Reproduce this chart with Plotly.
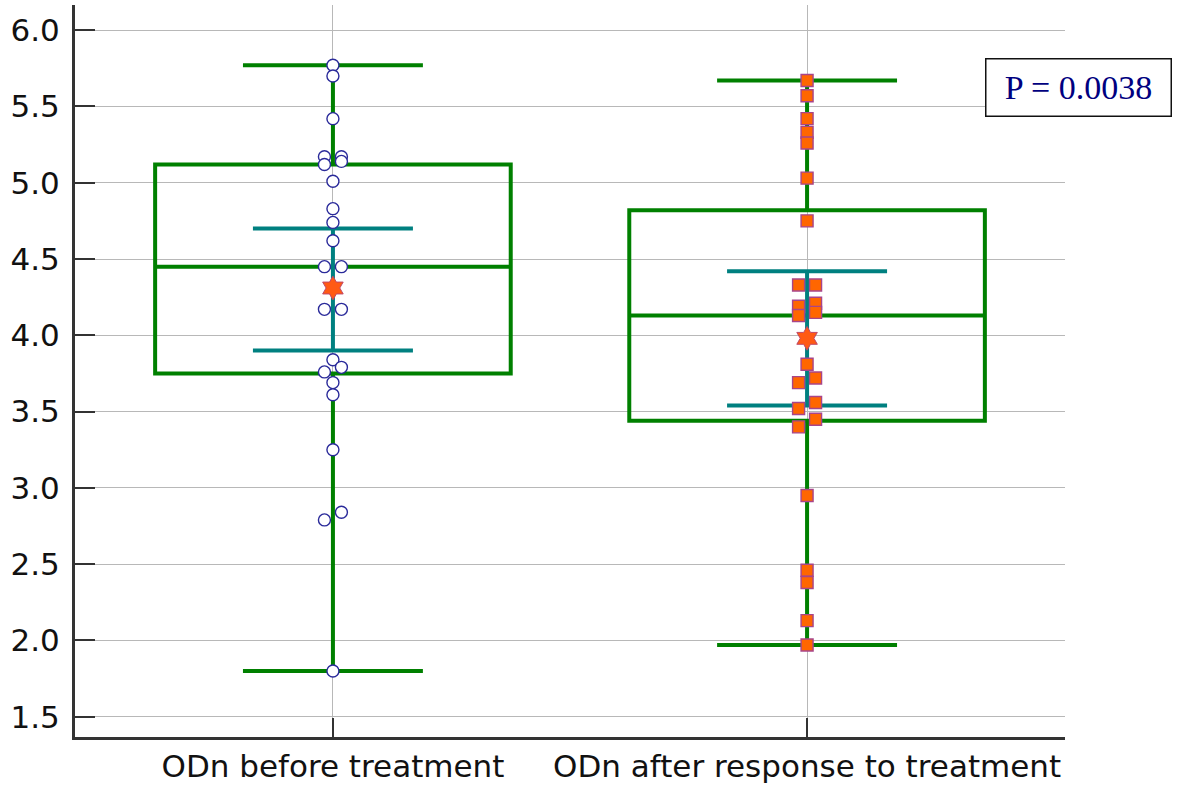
import plotly.graph_objects as go

# ---------------- data ----------------
categories = ["ODn before treatment", "ODn after response to treatment"]

before = [5.77, 5.70, 5.42, 5.17, 5.17, 5.14, 5.12, 5.01, 4.83, 4.74, 4.62,
          4.45, 4.45, 4.17, 4.17, 3.84, 3.79, 3.76, 3.69, 3.61, 3.25, 2.84,
          2.79, 1.80]
after = [5.67, 5.57, 5.42, 5.33, 5.26, 5.03, 4.75, 4.33, 4.33, 4.21, 4.19,
         4.15, 4.13, 3.81, 3.72, 3.69, 3.56, 3.52, 3.45, 3.40, 2.95, 2.46,
         2.38, 2.13, 1.97]

q1 = [3.75, 3.44]
median = [4.45, 4.13]
q3 = [5.12, 4.82]
whisker_low = [1.80, 1.97]
whisker_high = [5.77, 5.67]
mean = [4.31, 3.98]
ci_low = [3.90, 3.54]
ci_high = [4.70, 4.42]

y_ticks = [1.5, 2.0, 2.5, 3.0, 3.5, 4.0, 4.5, 5.0, 5.5, 6.0]
p_text = "P = 0.0038"

# ---------------- styling ----------------
GREEN = "#008000"
TEAL = "#008080"
GRID = "#b8b8b8"
AXIS = "#333333"
FONT = "DejaVu Sans"
SLOT = 0.0179  # horizontal dodge step (x units)


def dodge(vals, thr=0.065):
    """Symmetric dodge of nearly coincident points (deterministic)."""
    order = sorted(range(len(vals)), key=lambda i: -vals[i])
    clusters, cur = [], [order[0]]
    for a, b in zip(order[:-1], order[1:]):
        if vals[a] - vals[b] < thr - 1e-9:
            cur.append(b)
        else:
            clusters.append(cur)
            cur = [b]
    clusters.append(cur)
    slots = [0] * len(vals)
    for c in clusters:
        n = len(c)
        if n == 1:
            pat = [0]
        elif n % 2 == 1:
            pat = [0] + [1 if k % 2 == 0 else -1 for k in range(n - 1)]
        else:
            pat = [1 if k % 2 == 0 else -1 for k in range(n)]
        for idx, s in zip(c, pat):
            slots[idx] = s
    return slots


fig = go.Figure()

# boxes with whiskers
for i in range(2):
    fig.add_trace(go.Box(
        x=[i], q1=[q1[i]], median=[median[i]], q3=[q3[i]],
        lowerfence=[whisker_low[i]], upperfence=[whisker_high[i]],
        width=0.75, whiskerwidth=0.506,
        line=dict(color=GREEN, width=4),
        fillcolor="rgba(0,0,0,0)", boxpoints=False,
        showlegend=False, hoverinfo="skip"))

# confidence interval of the mean
fig.add_trace(go.Scatter(
    x=[0, 1], y=mean, mode="markers",
    marker=dict(size=1, color="rgba(0,0,0,0)"),
    error_y=dict(type="data", symmetric=False,
                 array=[h - m for h, m in zip(ci_high, mean)],
                 arrayminus=[m - l for m, l in zip(mean, ci_low)],
                 color=TEAL, thickness=4, width=80),
    showlegend=False, hoverinfo="skip"))

# individual observations
s1 = dodge(before)
fig.add_trace(go.Scatter(
    x=[0 + s * SLOT for s in s1], y=before, mode="markers",
    marker=dict(symbol="circle", size=12, color="white",
                line=dict(color="#2a2a9a", width=1.4)),
    showlegend=False))
s2 = dodge(after)
fig.add_trace(go.Scatter(
    x=[1 + s * SLOT for s in s2], y=after, mode="markers",
    marker=dict(symbol="square", size=12, color="#ff6600",
                line=dict(color="#a8458a", width=1.4)),
    showlegend=False))

# means
fig.add_trace(go.Scatter(
    x=[0, 1], y=mean, mode="markers",
    marker=dict(symbol="hexagram", size=18, color="#ff5a14",
                line=dict(color="#c04868", width=1)),
    showlegend=False))

fig.add_annotation(
    x=1.0136, y=0.887, xref="paper", yref="paper",
    text=p_text, showarrow=False,
    font=dict(family="Liberation Serif", size=34, color="#000080"),
    bgcolor="white", bordercolor="#111111", borderwidth=1.5,
    borderpad=0, width=184, height=56, xanchor="center", yanchor="middle")

fig.update_layout(
    width=1183, height=787,
    margin=dict(l=75, r=118, t=5, b=50, autoexpand=False),
    paper_bgcolor="white", plot_bgcolor="white",
    boxmode="overlay", showlegend=False,
    font=dict(family=FONT, color="#111111"),
)
fig.update_xaxes(
    range=[-0.544, 1.544], tickmode="array", tickvals=[0, 1],
    ticktext=categories, tickfont=dict(size=31, family=FONT, color="#111111"),
    showgrid=True, gridcolor=GRID, gridwidth=1, zeroline=False,
    showline=True, linecolor=AXIS, linewidth=3,
    ticks="inside", ticklen=19, tickwidth=2, tickcolor=AXIS,
    automargin=False)
fig.update_yaxes(
    range=[1.367, 6.165], tickmode="array", tickvals=y_ticks,
    ticktext=[f"{v:.1f}" for v in y_ticks],
    tickfont=dict(size=31, family=FONT, color="#111111"),
    showgrid=True, gridcolor=GRID, gridwidth=1, zeroline=False,
    showline=True, linecolor=AXIS, linewidth=3,
    ticks="inside", ticklen=20, tickwidth=2, tickcolor=AXIS,
    ticklabelstandoff=6, automargin=False)

fig.write_html("out.html")
